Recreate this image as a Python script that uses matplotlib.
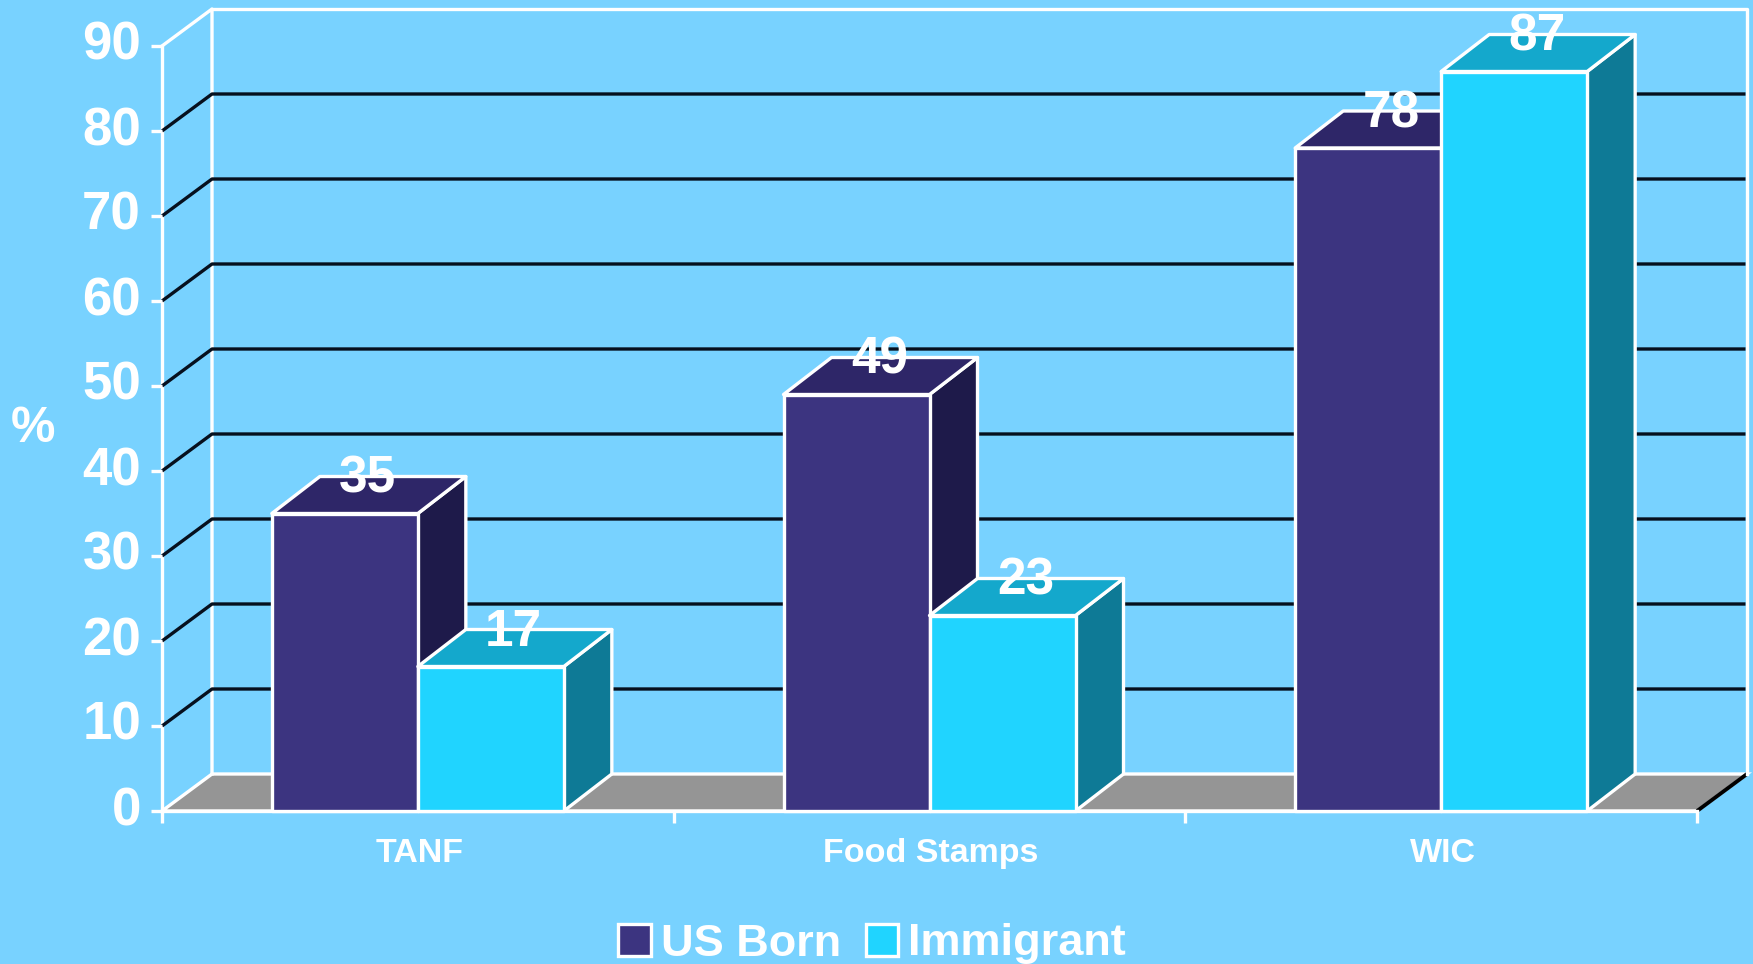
#!/usr/bin/env python
"""
Fake 3D clustered bars: benefit use of US born and immigrant groups.
"""

import matplotlib

matplotlib.use("Agg")
import matplotlib.pyplot as plt
from matplotlib.patches import Patch, Polygon

plt.rcParams["font.family"] = ["Liberation Sans", "DejaVu Sans"]

categories = ["TANF", "Food Stamps", "WIC"]
series_names = ["US Born", "Immigrant"]
us_born = [35, 49, 78]
immigrant = [17, 23, 87]
y_ticks = [0, 10, 20, 30, 40, 50, 60, 70, 80, 90]

BG = "#78D2FF"
WHITE = "#FFFFFF"
FLOOR = "#959595"
US_COLORS = ("#3C3480", "#2E2668", "#1E1A4A")  # front, top, side
IM_COLORS = ("#20D4FF", "#14A8CC", "#0E7A96")

# figure pixels -> axis units
W, H = 1753, 964
X0_PX, CAT_PX = 162, 511.67
Y0_PX, UNIT_PX = 811, 8.5

BAR_W = 146 / CAT_PX
WALL_DX = 50 / CAT_PX
BAR_DX = 48 / CAT_PX
DEPTH_Y = 37 / UNIT_PX
LW = 2.4


def poly(ax, pts, color):
    ax.add_patch(Polygon(pts, closed=True, facecolor=color, edgecolor=WHITE,
                         linewidth=LW, joinstyle="round", zorder=5))


def draw_bar(ax, left, value, colors):
    right = left + BAR_W
    poly(ax, [(right, 0), (right + BAR_DX, DEPTH_Y),
              (right + BAR_DX, value + DEPTH_Y), (right, value)], colors[2])
    poly(ax, [(left, value), (right, value),
              (right + BAR_DX, value + DEPTH_Y),
              (left + BAR_DX, value + DEPTH_Y)], colors[1])
    poly(ax, [(left, 0), (right, 0), (right, value), (left, value)], colors[0])
    ax.text(left + BAR_W / 2 + BAR_DX / 2 - 0.002, value + DEPTH_Y - 0.3, str(value),
            color=WHITE, fontsize=37, fontweight="bold",
            ha="center", va="center", zorder=10)


fig = plt.figure(figsize=(W / 100, H / 100), dpi=100, facecolor=BG)
ax = fig.add_axes([0, 0, 1, 1])
ax.set_xlim(-X0_PX / CAT_PX, (W - X0_PX) / CAT_PX)
ax.set_ylim((Y0_PX - H) / UNIT_PX, Y0_PX / UNIT_PX)
ax.axis("off")

n = len(categories)
top = y_ticks[-1]
tick_w = 11 / CAT_PX

# floor
ax.add_patch(Polygon([(0, 0), (WALL_DX, DEPTH_Y), (n + WALL_DX, DEPTH_Y), (n, 0)],
                     closed=True, facecolor=FLOOR, edgecolor=WHITE, linewidth=LW))
ax.plot([n, n + WALL_DX], [0, DEPTH_Y], color="black", lw=LW + 0.4,
        solid_capstyle="butt")

# walls
ax.plot([0, 0], [0, top], color=WHITE, lw=LW)
ax.plot([0, WALL_DX, WALL_DX], [top, top + DEPTH_Y, DEPTH_Y], color=WHITE, lw=LW)
ax.plot([WALL_DX, n + WALL_DX, n + WALL_DX], [top + DEPTH_Y, top + DEPTH_Y, DEPTH_Y],
        color=WHITE, lw=LW)

# grid lines on side and back wall
for v in y_ticks[1:-1]:
    ax.plot([0, WALL_DX, n + WALL_DX - 0.003], [v, v + DEPTH_Y, v + DEPTH_Y],
            color="#06101E", lw=LW, solid_capstyle="butt")

# y ticks and labels
for v in y_ticks:
    ax.plot([-tick_w, 0], [v, v], color=WHITE, lw=LW, solid_capstyle="butt")
    ax.text(-21 / CAT_PX, v, str(v), color=WHITE, fontsize=38, fontweight="bold",
            ha="right", va="center")
ax.text(-129 / CAT_PX, 45, "%", color=WHITE, fontsize=36, fontweight="bold",
        ha="center", va="center")

# x ticks and labels
ax.plot([0, n], [0, 0], color=WHITE, lw=LW)
for i in range(n + 1):
    ax.plot([i, i], [0, -1.4], color=WHITE, lw=LW, solid_capstyle="butt")
for i, name in enumerate(categories):
    ax.text(i + 0.503, -5.0, name, color=WHITE, fontsize=24.5, fontweight="bold",
            ha="center", va="center")

# bars
for i in range(n):
    draw_bar(ax, i + 0.5 - BAR_W, us_born[i], US_COLORS)
    draw_bar(ax, i + 0.5, immigrant[i], IM_COLORS)

# legend
handles = [
    Patch(facecolor=US_COLORS[0], edgecolor=WHITE, linewidth=LW, label=series_names[0]),
    Patch(facecolor=IM_COLORS[0], edgecolor=WHITE, linewidth=LW, label=series_names[1]),
]
ax.legend(handles=handles, ncol=2, frameon=False, loc="center",
          bbox_to_anchor=(872 / W, 1 - 944 / H),
          prop={"size": 32.5, "weight": "bold"}, labelcolor=WHITE,
          handlelength=0.72, handleheight=0.72, handletextpad=0.22,
          columnspacing=0.55, borderpad=0, borderaxespad=0)

fig.savefig("out.png", dpi=100, facecolor=BG)
